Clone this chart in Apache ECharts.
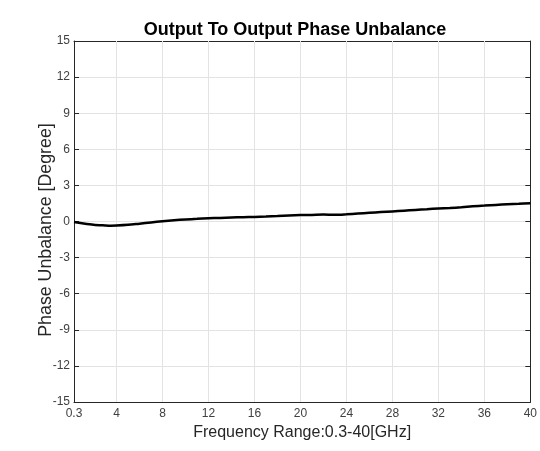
<!DOCTYPE html>
<html>
<head>
<meta charset="utf-8">
<script src="https://cdn.jsdelivr.net/npm/echarts@6/dist/echarts.min.js"></script>
<style>html,body{margin:0;padding:0;background:#fff;}#c{width:540px;height:451px;}</style>
</head>
<body>
<div id="c"></div>
<script>
const titleText = 'Output To Output Phase Unbalance';
const xName = 'Frequency Range:0.3-40[GHz]';
const yName = 'Phase Unbalance [Degree]';
const xTicks = [0.3, 4, 8, 12, 16, 20, 24, 28, 32, 36, 40];
const freq = [0.3, 1, 2, 3, 3.5, 4, 5, 6, 7, 8, 9, 10, 11, 12, 13, 14, 15, 16, 17, 18, 19, 20, 21, 22, 23, 24, 25, 26, 27, 28, 29, 30, 31, 32, 33, 34, 35, 36, 37, 38, 39, 40];
const phase = [-0.05, -0.15, -0.27, -0.33, -0.35, -0.34, -0.28, -0.18, -0.08, 0.02, 0.1, 0.17, 0.22, 0.27, 0.3, 0.33, 0.36, 0.38, 0.41, 0.45, 0.5, 0.53, 0.55, 0.58, 0.56, 0.6, 0.66, 0.72, 0.78, 0.84, 0.9, 0.96, 1.02, 1.08, 1.12, 1.18, 1.26, 1.32, 1.38, 1.43, 1.47, 1.52];

const chart = echarts.init(document.getElementById('c'));
const axisColor = '#262626';
const labelColor = '#404040';
const font = 'Liberation Sans, Arial, sans-serif';
const xCommon = {
  type: 'value', min: 0.3, max: 40,
  axisLine: {show: true, onZero: false, lineStyle: {color: axisColor, width: 1}},
  axisTick: {show: true, inside: true, length: 5, customValues: xTicks, lineStyle: {color: axisColor}},
  splitLine: {show: false}
};
const yCommon = {
  type: 'value', min: -15, max: 15, interval: 3,
  axisLine: {show: true, onZero: false, lineStyle: {color: axisColor, width: 1}},
  axisTick: {show: true, inside: true, length: 5, lineStyle: {color: axisColor}}
};
chart.setOption({
  animation: false,
  backgroundColor: '#fff',
  title: {
    text: titleText, left: 290, top: 16, textAlign: 'center',
    textStyle: {fontFamily: font, fontSize: 18, fontWeight: 'bold', color: '#000'}
  },
  grid: {left: 74, right: 8, top: 41, bottom: 49, containLabel: false},
  xAxis: [
    Object.assign({}, xCommon, {
      position: 'bottom',
      name: xName, nameLocation: 'middle', nameGap: 31, nameMoveOverlap: false,
      nameTextStyle: {fontFamily: font, fontSize: 16, color: '#262626', verticalAlign: 'middle'},
      axisLabel: {show: true, customValues: xTicks, margin: 6, color: labelColor, fontFamily: font, fontSize: 12,
        formatter: v => String(Math.round(v * 10) / 10)}
    }),
    Object.assign({}, xCommon, {position: 'top', axisLabel: {show: false}})
  ],
  yAxis: [
    Object.assign({}, yCommon, {
      position: 'left',
      name: yName, nameLocation: 'middle', nameGap: 19, nameMoveOverlap: false,
      nameTextStyle: {fontFamily: font, fontSize: 17.8, color: '#262626', padding: [0, 17, 0, 0]},
      axisLabel: {show: true, margin: 4, color: labelColor, fontFamily: font, fontSize: 12},
      splitLine: {show: true, lineStyle: {color: '#e3e3e3', width: 1}}
    }),
    Object.assign({}, yCommon, {position: 'right', axisLabel: {show: false}, splitLine: {show: false}})
  ],
  series: [{
    type: 'line',
    data: freq.map((f, i) => [f, phase[i]]),
    showSymbol: false,
    smooth: 0.3,
    lineStyle: {color: '#000', width: 2.5},
    markLine: {
      silent: true, symbol: ['none', 'none'], label: {show: false},
      lineStyle: {color: '#e3e3e3', width: 1, type: 'solid'},
      data: xTicks.slice(1, -1).map(v => ({xAxis: v}))
    },
    z: 5
  }]
});
</script>
</body>
</html>
